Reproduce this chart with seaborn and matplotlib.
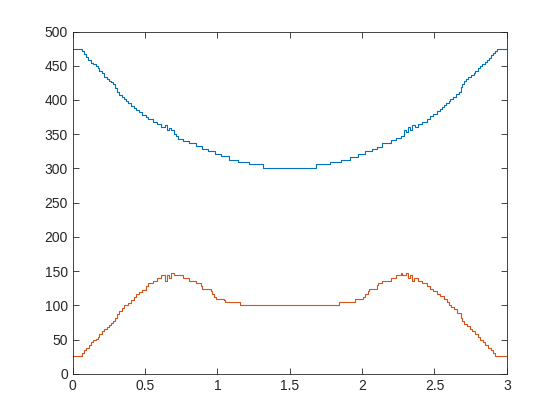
import matplotlib
matplotlib.use("Agg")
import matplotlib.pyplot as plt
import seaborn as sns
import pandas as pd

# step start positions and levels
blue_x = [0.000, 0.0645, 0.076, 0.090, 0.108, 0.124, 0.143, 0.159, 0.171, 0.182,
          0.200, 0.217, 0.235, 0.253, 0.267, 0.279, 0.293, 0.304, 0.318, 0.339,
          0.357, 0.369, 0.385, 0.403, 0.422, 0.438, 0.459, 0.479, 0.507, 0.523,
          0.555, 0.583, 0.611, 0.638, 0.650, 0.666, 0.682, 0.698, 0.712, 0.728,
          0.763, 0.800, 0.855, 0.896, 0.935, 0.982, 1.023, 1.081, 1.143, 1.219,
          1.316, 1.680, 1.776, 1.855, 1.919, 1.972, 2.018, 2.065, 2.104, 2.138,
          2.200, 2.235, 2.270, 2.290, 2.304, 2.320, 2.332, 2.348, 2.362, 2.387,
          2.415, 2.445, 2.470, 2.491, 2.518, 2.537, 2.551, 2.569, 2.583, 2.599,
          2.608, 2.631, 2.652, 2.668, 2.684, 2.691, 2.707, 2.721, 2.735, 2.753,
          2.770, 2.783, 2.802, 2.818, 2.832, 2.846, 2.862, 2.876, 2.889, 2.905,
          2.919, 2.933, 3.000]
blue_y = [474, 471, 467, 463, 459, 454, 452, 449, 446, 442,
          439, 434, 431, 428, 426, 423, 418, 411, 407, 404,
          401, 399, 395, 391, 388, 385, 382, 378, 375, 372,
          368, 365, 361, 364, 356, 359, 356, 351, 347, 343,
          340, 337, 333, 329, 325, 321, 318, 313, 309, 306,
          301, 306, 309, 313, 317, 321, 325, 329, 332, 337,
          342, 344, 348, 356, 353, 360, 356, 364, 360, 365,
          368, 372, 376, 379, 384, 387, 390, 393, 396, 398,
          401, 405, 408, 411, 419, 424, 427, 430, 434, 437,
          440, 443, 447, 449, 452, 455, 458, 462, 465, 468,
          471, 474, 474]

orange_x = [0.000, 0.0645, 0.076, 0.090, 0.113, 0.124, 0.143, 0.159, 0.171, 0.182,
            0.200, 0.217, 0.235, 0.253, 0.267, 0.279, 0.293, 0.304, 0.318, 0.339,
            0.357, 0.385, 0.403, 0.422, 0.438, 0.459, 0.479, 0.507, 0.523, 0.555,
            0.583, 0.611, 0.638, 0.650, 0.666, 0.682, 0.698, 0.763, 0.800, 0.855,
            0.878, 0.889, 0.896, 0.952, 0.959, 0.975, 0.989, 1.046, 1.053, 1.157,
            1.841, 1.951, 2.007, 2.021, 2.041, 2.048, 2.104, 2.111, 2.138, 2.200,
            2.235, 2.270, 2.277, 2.304, 2.318, 2.332, 2.346, 2.359, 2.387, 2.415,
            2.445, 2.468, 2.491, 2.518, 2.541, 2.565, 2.588, 2.599, 2.615, 2.636,
            2.657, 2.680, 2.691, 2.707, 2.728, 2.744, 2.758, 2.781, 2.800, 2.816,
            2.837, 2.850, 2.873, 2.889, 2.905, 2.919, 3.000]
orange_y = [26, 30, 35, 38, 41.5, 46, 49, 51, 54, 58,
            62, 65, 69, 72, 74, 77, 81, 87.5, 92, 96,
            100, 104, 108, 112, 116, 120, 123, 128, 132.5, 136,
            140, 144, 135, 145, 140, 147, 145, 140, 136, 133,
            133, 128.5, 124, 121, 117, 112, 109.5, 108, 105, 100.7,
            105, 109.5, 112, 117, 121, 124, 130, 133, 136, 140,
            145, 147.5, 145, 147.5, 140, 145, 136, 140, 136, 133,
            128.5, 124, 121, 117, 113, 109.5, 105.5, 101, 97, 94,
            89, 82, 77, 73, 70, 65.5, 62, 58, 54, 50,
            47, 42, 38, 35, 31, 26, 26]

xticks = [0, 0.5, 1, 1.5, 2, 2.5, 3]
xtick_labels = ["0", "0.5", "1", "1.5", "2", "2.5", "3"]
yticks = list(range(0, 501, 50))

sns.set_style("ticks")
plt.rcParams["font.family"] = ["Liberation Sans", "DejaVu Sans"]
plt.rcParams["xtick.direction"] = "in"
plt.rcParams["ytick.direction"] = "in"

blue = pd.DataFrame({"x": blue_x, "y": blue_y})
orange = pd.DataFrame({"x": orange_x, "y": orange_y})

fig = plt.figure(figsize=(5.6, 4.2), dpi=100)
ax = fig.add_axes([0.13, 0.11, 0.775, 0.815])

sns.lineplot(data=blue, x="x", y="y", ax=ax, color="#0072BD", linewidth=0.8,
             drawstyle="steps-post", sort=False, estimator=None)
sns.lineplot(data=orange, x="x", y="y", ax=ax, color="#D95319", linewidth=0.8,
             drawstyle="steps-post", sort=False, estimator=None)

ax.set_xlim(0, 3)
ax.set_ylim(0, 500)
ax.set_xticks(xticks)
ax.set_xticklabels(xtick_labels)
ax.set_yticks(yticks)
ax.set_xlabel("")
ax.set_ylabel("")
ax.tick_params(which="both", top=True, right=True, length=4, width=0.6,
               labelsize=10, colors="#262626")
for s in ax.spines.values():
    s.set_visible(True)
    s.set_color("#262626")
    s.set_linewidth(0.6)

fig.savefig("out.png", dpi=100)
